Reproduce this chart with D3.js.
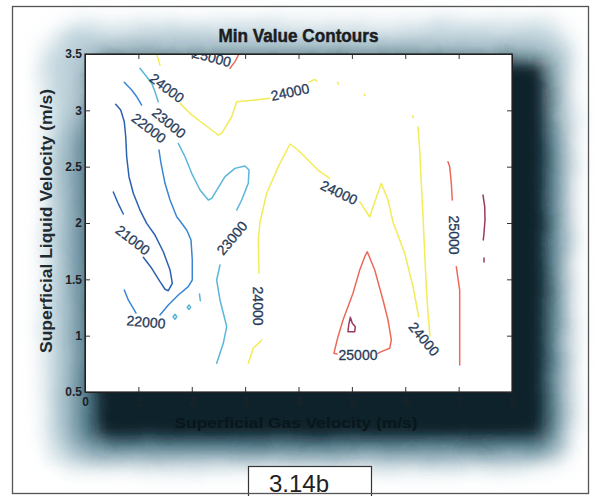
<!DOCTYPE html>
<html>
<head>
<meta charset="utf-8">
<title>Min Value Contours</title>
<script src="https://cdn.jsdelivr.net/npm/d3@7"></script>
<style>
  body { margin: 0; background: #fff; }
  svg text { font-family: "Liberation Sans", Arial, sans-serif; }
</style>
</head>
<body>
<script>

// contour levels and colours (jet-like, washed out like the scan)
var levels = [21000, 22000, 23000, 24000, 25000, 26000];
var levelColors = ["#2b62b0", "#3a86d4", "#5bb6d9", "#f2ec58", "#ec6a5a", "#993a62"];

// axis ticks
var xTicks = [0, 1, 2, 3, 4, 5, 6, 7, 8];
var xTickLabels = ["0", "1", "2", "3", "4", "5", "6", "7", "8"];
var yTicks = [0.5, 1, 1.5, 2, 2.5, 3, 3.5];
var yTickLabels = ["0.5", "1", "1.5", "2", "2.5", "3", "3.5"];

// contour pieces: [gas velocity, liquid velocity]
var c21000a = [[0.575,3.053],[0.669,3.003],[0.736,2.899],[0.763,2.766],[0.781,2.588],[0.824,2.411],
               [0.905,2.264],[1.030,2.115],[1.156,1.997],[1.311,1.893],[1.467,1.745],[1.593,1.583],
               [1.636,1.465],[1.561,1.399],[1.499,1.412],[1.405,1.479],[1.250,1.598],[1.092,1.696]];
var c21000b = [[0.530,2.275],[0.618,2.177],[0.718,2.080]];

var c22000a = [[0.736,3.249],[0.875,3.180],[0.969,3.121],[1.062,3.047]];
var c22000b = [[1.386,2.648],[1.424,2.530],[1.499,2.352],[1.593,2.204],[1.718,2.056],[1.780,2.018],
               [1.905,1.938],[1.986,1.849],[2.010,1.672],[2.010,1.494],[1.935,1.435],[1.748,1.361],
               [1.561,1.272],[1.405,1.183]];
var c22000c = [[0.736,1.405],[0.811,1.317],[0.905,1.243],[0.956,1.201]];

var c23000a = [[1.030,3.373],[1.156,3.298],[1.250,3.240],[1.311,3.165],[1.373,3.077]];
var c23000b = [[1.748,2.707],[1.874,2.588],[1.999,2.441],[2.155,2.293],[2.310,2.204],[2.374,2.219],
               [2.623,2.411],[2.810,2.485],[2.998,2.506],[3.073,2.470],[3.059,2.352],[2.936,2.204],
               [2.842,2.115]];
var c23000c = [[2.529,1.627],[2.467,1.494],[2.529,1.317],[2.655,1.080],[2.591,0.932],[2.467,0.755]];
var c23000d = [[1.650,1.168],[1.686,1.190],[1.720,1.168],[1.686,1.146],[1.650,1.168]];
var c23000e = [[1.915,1.252],[1.948,1.272],[1.980,1.252],[1.948,1.232],[1.915,1.252]];
var c23000f = [[2.145,1.370],[2.160,1.310]];

var c24000a = [[1.343,3.500],[1.405,3.402]];
var c24000b = [[1.780,3.062],[1.999,2.959],[2.248,2.870],[2.497,2.781],[2.561,2.796],[2.748,2.943],
               [2.842,3.077],[3.185,3.092],[3.466,3.107]];
var c24000c = [[4.197,3.251],[4.303,3.275],[4.337,3.260]];
var c24000d = [[4.730,3.248],[4.750,3.234]];
var c24000e = [[5.230,3.142],[5.250,3.130]];
var c24000f = [[6.135,2.950],[6.155,2.936]];
var c24000g = [[6.239,2.855],[6.271,2.648],[6.301,2.352],[6.333,2.056],[6.364,1.731],[6.394,1.435],
               [6.426,1.198],[6.464,0.997]];
var c24000h = [[3.059,0.755],[3.153,0.888],[3.311,0.962]];
var c24000i = [[3.260,1.554],[3.247,1.849],[3.279,2.009],[3.404,2.264],[3.622,2.500],[3.841,2.701],
               [3.991,2.648],[4.178,2.559],[4.365,2.470],[4.585,2.397]];
var c24000j = [[5.147,2.189],[5.334,2.053],[5.377,2.115],[5.551,2.352],[5.677,2.204],[5.770,2.009],
               [5.990,1.731],[6.145,1.435],[6.252,1.168]];

var c25000a = [[2.717,3.373],[2.810,3.432],[2.885,3.500]];
var c25000b = [[6.801,2.544],[6.833,2.500],[6.863,2.352],[6.881,2.204]];
var c25000c = [[6.956,1.612],[7.020,1.405],[7.020,1.139],[7.020,0.740]];
var c25000d = [[5.489,0.843],[5.551,0.858],[5.709,0.888],[5.739,0.962],[5.677,1.139],[5.583,1.317],
               [5.428,1.583],[5.289,1.745],[5.240,1.701],[5.147,1.583],[5.021,1.376],[4.834,1.139],
               [4.740,0.991],[4.678,0.873],[4.665,0.843],[4.721,0.837]];

var c26000a = [[4.971,1.163],[5.008,1.110],[5.064,1.080],[5.053,1.035],[4.927,1.035],[4.940,1.095],[4.971,1.163]];
var c26000b = [[7.457,2.248],[7.489,2.145],[7.494,2.027],[7.475,1.909],[7.462,1.849]];
var c26000c = [[7.475,1.689],[7.475,1.654]];

var pieces = [
  {level: 21000, pts: c21000a}, {level: 21000, pts: c21000b},
  {level: 22000, pts: c22000a}, {level: 22000, pts: c22000b}, {level: 22000, pts: c22000c},
  {level: 23000, pts: c23000a}, {level: 23000, pts: c23000b}, {level: 23000, pts: c23000c},
  {level: 23000, pts: c23000d}, {level: 23000, pts: c23000e}, {level: 23000, pts: c23000f},
  {level: 24000, pts: c24000a}, {level: 24000, pts: c24000b}, {level: 24000, pts: c24000c},
  {level: 24000, pts: c24000d}, {level: 24000, pts: c24000e}, {level: 24000, pts: c24000f},
  {level: 24000, pts: c24000g}, {level: 24000, pts: c24000h}, {level: 24000, pts: c24000i},
  {level: 24000, pts: c24000j},
  {level: 25000, pts: c25000a}, {level: 25000, pts: c25000b}, {level: 25000, pts: c25000c},
  {level: 25000, pts: c25000d},
  {level: 26000, pts: c26000a}, {level: 26000, pts: c26000b}, {level: 26000, pts: c26000c}
];

// inline contour labels: value, position (data units), angle
var labelValues = [21000, 22000, 22000, 23000, 23000, 24000, 24000, 24000, 24000, 24000, 25000, 25000, 25000];
var labelPos = [[0.899,1.849],[1.199,2.843],[1.143,1.121],[1.574,2.888],[2.754,1.867],[1.536,3.198],
                [3.841,3.163],[4.759,2.271],[3.241,1.263],[6.351,0.970],[2.379,3.470],[6.913,1.893],[5.115,0.824]];
var labelAngle = [38, 38, 5, 40, -50, 37, -12, 25, 90, 50, 15, 90, 0];

// layout
var W = 596, H = 496;
var margin = {top: 54, right: 84, bottom: 104, left: 85};
var width = W - margin.left - margin.right;
var height = H - margin.top - margin.bottom;

var svg = d3.select("body").append("svg")
    .attr("width", W)
    .attr("height", H);

// shadow filters: blur plus a gentle low-frequency displacement for a ragged edge
var defs = svg.append("defs");
function softShadow(id, sd, freq, scale, seed) {
    var f = defs.append("filter").attr("id", id)
        .attr("x", "-25%").attr("y", "-25%").attr("width", "150%").attr("height", "150%");
    f.append("feGaussianBlur").attr("in", "SourceGraphic").attr("stdDeviation", sd).attr("result", "b");
    f.append("feTurbulence").attr("type", "fractalNoise").attr("baseFrequency", freq)
        .attr("numOctaves", 2).attr("seed", seed).attr("result", "n");
    f.append("feDisplacementMap").attr("in", "b").attr("in2", "n")
        .attr("scale", scale).attr("xChannelSelector", "R").attr("yChannelSelector", "G");
}
softShadow("blurHalo", 11, 0.02, 14, 3);
softShadow("blurMid", 14, 0.02, 8, 7);
softShadow("blurCore", 13, 0.03, 6, 11);
softShadow("blurDeep", 6, 0.03, 4, 5);
defs.append("clipPath").attr("id", "plotClip")
  .append("rect").attr("width", width).attr("height", height);

svg.append("rect")
    .attr("x", 48).attr("y", 24).attr("width", 522).attr("height", 440)
    .attr("rx", 30)
    .attr("fill", "#bcd1da")
    .attr("filter", "url(#blurHalo)");
svg.append("rect")
    .attr("x", 70).attr("y", 120).attr("width", 486).attr("height", 332)
    .attr("rx", 16)
    .attr("fill", "#6d93a3")
    .attr("filter", "url(#blurMid)");
svg.append("rect")
    .attr("x", 94).attr("y", 60).attr("width", 454).attr("height", 380)
    .attr("fill", "#0f2a35")
    .attr("filter", "url(#blurCore)");
svg.append("rect")
    .attr("x", 102).attr("y", 68).attr("width", 436).attr("height", 364)
    .attr("fill", "#0b2029")
    .attr("filter", "url(#blurDeep)");

var g = svg.append("g")
    .attr("transform", "translate(" + margin.left + "," + margin.top + ")");

g.append("rect")
    .attr("width", width).attr("height", height)
    .attr("fill", "#fff");

var x = d3.scaleLinear().domain([0, 8]).range([0, width]);
var y = d3.scaleLinear().domain([0.5, 3.5]).range([height, 0]);
var color = d3.scaleOrdinal().domain(levels).range(levelColors);

// contour lines
var plot = g.append("g").attr("clip-path", "url(#plotClip)");
var line = d3.line()
    .x(function(d) { return x(d[0]); })
    .y(function(d) { return y(d[1]); });

plot.selectAll("path.contour")
    .data(pieces)
    .enter()
    .append("path")
    .attr("class", "contour")
    .attr("d", function(d) { return line(d.pts); })
    .attr("fill", "none")
    .attr("stroke", function(d) { return color(d.level); })
    .attr("stroke-width", 1.5)
    .attr("stroke-linejoin", "round")
    .attr("stroke-linecap", "round");

plot.selectAll("text.clabel")
    .data(labelValues)
    .enter()
    .append("text")
    .attr("class", "clabel")
    .attr("transform", function(d, i) {
        return "translate(" + x(labelPos[i][0]) + "," + y(labelPos[i][1]) + ") rotate(" + labelAngle[i] + ")";
    })
    .attr("text-anchor", "middle")
    .attr("dominant-baseline", "central")
    .attr("font-size", 14)
    .attr("fill", "#283a58")
    .attr("stroke", "#283a58").attr("stroke-width", 0.3)
    .text(function(d) { return d; });

// axes, ticks inward like MATLAB
g.append("g")
    .attr("transform", "translate(0," + height + ")")
    .call(d3.axisBottom(x).tickValues(xTicks)
        .tickFormat(function(d, i) { return xTickLabels[i]; })
        .tickSizeInner(-5).tickSizeOuter(0).tickPadding(5));
g.append("g")
    .call(d3.axisTop(x).tickValues(xTicks).tickFormat("")
        .tickSizeInner(-5).tickSizeOuter(0));
g.append("g")
    .call(d3.axisLeft(y).tickValues(yTicks)
        .tickFormat(function(d, i) { return yTickLabels[i]; })
        .tickSizeInner(-5).tickSizeOuter(0).tickPadding(3));
g.append("g")
    .attr("transform", "translate(" + width + ",0)")
    .call(d3.axisRight(y).tickValues(yTicks).tickFormat("")
        .tickSizeInner(-5).tickSizeOuter(0));

g.selectAll(".domain").attr("stroke", "#222");
g.selectAll(".tick line").attr("stroke", "#333");
g.selectAll(".tick text")
    .attr("font-family", "Liberation Sans, Arial, sans-serif")
    .attr("font-weight", "bold")
    .attr("font-size", 12)
    .attr("fill", "#1c2226");

g.append("rect")
    .attr("width", width).attr("height", height)
    .attr("fill", "none")
    .attr("stroke", "#222")
    .attr("stroke-width", 1.2);

// title and axis labels
svg.append("text")
    .attr("x", margin.left + width / 2).attr("y", 42)
    .attr("text-anchor", "middle")
    .attr("font-weight", "bold").attr("font-size", 18)
    .attr("textLength", 160).attr("lengthAdjust", "spacingAndGlyphs")
    .attr("fill", "#1b1d1f")
    .attr("stroke", "#1b1d1f").attr("stroke-width", 0.5)
    .text("Min Value Contours");

svg.append("text")
    .attr("transform", "translate(52," + (margin.top + height / 2 - 2) + ") rotate(-90)")
    .attr("text-anchor", "middle")
    .attr("font-weight", "bold").attr("font-size", 16)
    .attr("textLength", 264).attr("lengthAdjust", "spacingAndGlyphs")
    .attr("fill", "#1d2a30")
    .text("Superficial Liquid Velocity (m/s)");

svg.append("text")
    .attr("x", 296).attr("y", 428)
    .attr("text-anchor", "middle")
    .attr("font-weight", "bold").attr("font-size", 15)
    .attr("textLength", 243).attr("lengthAdjust", "spacingAndGlyphs")
    .attr("fill", "#0a161b")
    .text("Superficial Gas Velocity (m/s)");

// figure number box and page frame
svg.append("rect")
    .attr("x", 248.5).attr("y", 466.5).attr("width", 123).attr("height", 40)
    .attr("fill", "#fff").attr("stroke", "#333").attr("stroke-width", 1.2);
svg.append("text")
    .attr("x", 269).attr("y", 492)
    .attr("font-family", "Liberation Serif, Times New Roman, serif")
    .attr("font-size", 24)
    .attr("fill", "#222")
    .text("3.14b");
svg.append("rect")
    .attr("x", 12.5).attr("y", 6.5).attr("width", 576).attr("height", 487)
    .attr("fill", "none").attr("stroke", "#555").attr("stroke-width", 1.3);

</script>
</body>
</html>
